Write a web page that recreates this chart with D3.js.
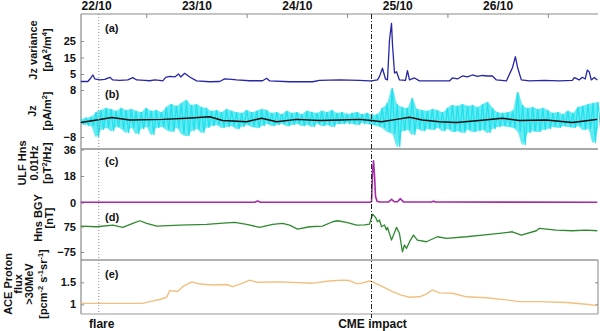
<!DOCTYPE html>
<html>
<head>
<meta charset="utf-8">
<script src="https://cdn.jsdelivr.net/npm/d3@7"></script>
<style>
  body { margin: 0; background: #fff; }
  text { font-family: "Liberation Sans", Arial, sans-serif; font-weight: bold; fill: #111; }
</style>
</head>
<body>
<svg id="chart" width="600" height="331"></svg>
<script>
// ---- time axis (days counted from 22/10 00:00) ----
const dayLabels = ["22/10", "23/10", "24/10", "25/10", "26/10"];
const dayLabelTimes = [0.5, 1.5, 2.5, 3.5, 4.5];
const dayTickTimes = [1, 2, 3, 4, 5];
const flareTime = 0.527;
const cmeTime = 3.244;

// ---- (a) Jz variance [pA^2/m^4] ----
const varTime = [0.348,0.418,0.448,0.468,0.488,0.537,0.587,0.637,0.667,0.736,
  0.816,0.866,0.905,0.985,1.035,1.085,1.134,1.164,1.194,1.234,
  1.284,1.323,1.343,1.383,1.433,1.502,1.632,1.731,1.781,1.851,
  1.900,2.030,2.159,2.199,2.229,2.428,2.657,2.726,2.925,3.124,
  3.224,3.244,3.303,3.323,3.353,3.383,3.403,3.423,3.443,3.453,
  3.473,3.493,3.522,3.582,3.602,3.622,3.672,3.721,4.020,4.050,
  4.100,4.149,4.199,4.249,4.299,4.348,4.398,4.448,4.488,4.587,
  4.647,4.677,4.697,4.736,4.816,4.965,5.114,5.244,5.264,5.313,
  5.343,5.373,5.393,5.413,5.433,5.463,5.493];
const varValue = [0.45,0.45,2.6,4.4,2.0,1.4,1.7,3.0,1.4,1.1,
  1.4,2.8,1.4,1.1,0.9,1.4,1.1,0.8,3.0,3.5,
  3.2,5.0,3.2,5.4,3.2,0.8,0.3,0.45,2.0,1.7,
  1.4,0.9,0.9,2.4,0.8,0.3,0.3,1.1,1.4,1.1,
  0.8,0.8,1.4,3.4,8.5,2.0,1.4,25.6,35.7,22.6,
  5.6,6.4,1.4,1.1,7.0,1.4,2.6,0.8,0.8,2.6,
  2.0,3.8,3.2,4.4,3.5,4.1,3.8,3.8,1.4,0.8,
  8.6,15.5,9.4,1.4,0.8,1.1,0.8,1.1,2.8,1.4,
  3.0,2.0,7.4,6.2,1.4,2.9,1.4];
const varTicks = [5, 15, 25];

// ---- (b) Jz [pA/m^2]: sample envelope (every 0.05 d) and running mean ----
const jzStart = 0.35, jzStep = 0.05;
const jzHigh = [-1.9,-1.5,-1.2,0.5,1.2,1.9,1.5,0.9,1.9,1.2,
  1.5,0.9,0.5,1.9,0.9,1.2,0.5,2.2,3.2,2.6,
  3.6,4.6,2.9,3.2,2.2,1.9,0.9,1.2,0.5,1.5,
  0.9,0.5,0.2,1.2,0.5,0.9,1.5,1.2,0.2,0.5,
  -0.2,0.9,0.2,0.5,-0.2,0.9,0.5,0.2,0.9,0.5,
  1.2,0.2,0.5,-0.2,0.2,0.5,-0.2,0.2,-0.5,-0.2,
  1.9,3.6,8.7,3.2,2.2,1.9,5.3,1.5,1.2,0.9,
  1.5,1.2,0.5,1.9,2.9,2.6,3.2,2.6,2.9,2.2,
  3.2,3.9,1.9,0.5,0.2,0.5,0.9,7.3,2.9,1.9,
  2.2,1.5,1.9,1.2,0.2,0.5,-0.2,0.9,0.2,2.2,
  2.6,3.2,3.6,3.9];
const jzLow = [-3.6,-3.9,-4.3,-8.0,-5.6,-4.9,-6.0,-4.6,-5.3,-6.6,
  -4.9,-7.0,-5.3,-4.6,-7.3,-4.9,-4.6,-5.6,-6.3,-4.9,
  -7.0,-7.7,-6.0,-5.3,-6.6,-4.9,-4.3,-3.9,-4.9,-4.6,
  -4.3,-5.3,-4.6,-3.9,-4.6,-4.9,-4.3,-3.6,-4.3,-3.9,
  -3.6,-4.3,-3.9,-3.6,-4.3,-3.9,-4.6,-3.6,-4.3,-3.9,
  -4.6,-3.6,-3.6,-3.2,-3.6,-3.9,-3.2,-3.6,-3.9,-4.3,
  -4.9,-6.3,-7.0,-11.4,-6.0,-5.6,-7.3,-5.3,-6.0,-5.3,
  -5.6,-4.9,-6.0,-5.3,-6.3,-6.0,-6.6,-5.6,-6.3,-6.0,
  -5.6,-6.6,-5.3,-4.6,-4.3,-4.6,-4.9,-6.3,-10.7,-6.6,
  -6.0,-6.3,-5.6,-5.3,-4.6,-4.9,-4.3,-4.6,-4.9,-4.3,
  -5.6,-5.3,-10.0,-4.9];
const jzMeanTime = [0.348,0.507,0.657,0.836,1.164,1.403,1.632,1.761,2.000,2.149,
  2.299,2.498,2.726,2.925,3.124,3.244,3.343,3.493,3.622,3.751,
  3.920,4.090,4.318,4.547,4.716,4.985,5.244,5.443,5.493];
const jzMeanValue = [-3.1,-2.2,-1.4,-2.2,-2.0,-1.6,-1.1,-2.4,-2.8,-1.6,
  -2.8,-2.0,-2.4,-2.2,-2.0,-2.4,-2.8,-2.0,-1.3,-2.2,
  -2.8,-3.1,-2.4,-1.6,-2.4,-2.2,-3.1,-2.2,-2.0];
const jzTicks = [-8, 8];

// ---- (c) ULF Hns 0.01 Hz [pT^2/Hz] ----
const ulfTime = [0.348,2.080,2.109,2.139,3.224,3.244,3.254,3.264,3.274,3.284,
  3.299,3.323,3.413,3.443,3.473,3.502,3.532,3.562,3.841,3.861,3.881,5.493];
const ulfValue = [0.2,0.2,1.0,0.2,0.2,0.5,20,28.4,18,4,
  0.8,0.3,0.3,2.2,0.5,0.5,2.6,0.4,0.3,0.9,0.3,0.2];
const ulfTicks = [0, 18, 36];

// ---- (d) Hns BGY [nT] ----
const bgyTime = [0.348,0.507,0.667,0.766,0.866,0.935,1.005,1.104,1.333,1.602,
  1.731,1.881,2.000,2.129,2.259,2.358,2.428,2.507,2.627,2.756,
  2.856,2.905,2.995,3.095,3.174,3.224,3.254,3.284,3.303,3.323,
  3.343,3.373,3.393,3.403,3.443,3.483,3.493,3.522,3.552,3.572,
  3.592,3.632,3.662,3.701,3.791,3.900,3.990,4.189,4.348,4.517,
  4.647,4.736,4.886,4.915,5.085,5.244,5.383,5.493];
const bgyValue = [77.6,73.5,83.5,70,93.5,108.8,93.5,77.6,83.5,87.6,
  93.5,99.4,87.6,70,87.6,93.5,83.5,60,73.5,77.6,
  103,108.8,99.4,83.5,85,89.4,148,128.8,103,113,
  73.5,83.5,54,70,-4.7,54,70,35,-73.5,-34,
  -53.5,-4.7,24.7,-4.7,-14.7,14.7,5.3,14.7,24.7,35,
  44,24.7,50,64,54,50,54,50];
const bgyTicks = [-75, 75];

// ---- (e) ACE proton flux >30 MeV ----
const protonTime = [0.348,0.965,1.035,1.134,1.204,1.234,1.313,1.363,1.453,1.532,
  1.662,1.801,1.861,1.960,2.030,2.100,2.328,2.657,2.826,2.955,
  3.025,3.095,3.144,3.224,3.254,3.353,3.453,3.542,3.622,3.721,
  3.791,3.851,3.920,4.050,4.189,4.388,4.587,4.716,4.915,5.184,
  5.383,5.493];
const protonValue = [1.02,1.02,1.06,1.11,1.16,1.31,1.29,1.40,1.51,1.46,
  1.44,1.45,1.40,1.48,1.55,1.50,1.51,1.48,1.53,1.55,
  1.54,1.47,1.48,1.53,1.51,1.40,1.29,1.21,1.16,1.17,
  1.23,1.33,1.26,1.25,1.17,1.15,1.10,1.06,1.06,1.04,
  1.00,0.97];
const protonTicks = [1, 1.5];

// ---------------------------------------------------------------
const svg = d3.select("#chart");
const plotL = 81, plotR = 598, plotT = 14, plotB = 314;

const x = d3.scaleLinear().domain([0.35, 5.5]).range([plotL, plotR]);

const yVar = d3.scaleLinear().domain([0, 25]).range([82.25, 41]);
const yJz = d3.scaleLinear().domain([-8, 8]).range([137, 90]);
const yUlf = d3.scaleLinear().domain([0, 36]).range([202.5, 149.5]);
const yBgy = d3.scaleLinear().domain([-75, 75]).range([252, 226.5]);
const yPro = d3.scaleLinear().domain([1, 1.5]).range([304.3, 282.3]);

const pairs = (ts, vs) => ts.map((t, i) => [t, vs[i]]);
function drawLine(ts, vs, y, color, width) {
  svg.append("path")
    .datum(pairs(ts, vs))
    .attr("fill", "none")
    .attr("stroke", color)
    .attr("stroke-width", width)
    .attr("stroke-linejoin", "round")
    .attr("d", d3.line().x(d => x(d[0])).y(d => y(d[1])));
}

// frame pieces
const frame = svg.append("g").attr("fill", "none");
function hline(yy, color, w) {
  frame.append("line").attr("x1", plotL).attr("x2", plotR).attr("y1", yy).attr("y2", yy)
    .attr("stroke", color).attr("stroke-width", w);
}
hline(plotT, "#8a8a8a", 1.2);
hline(149, "#a9a9a9", 2);
hline(260, "#9a9a9a", 1.5);
hline(plotB, "#9a9a9a", 1.2);
frame.append("line").attr("x1", plotR).attr("x2", plotR).attr("y1", 260).attr("y2", plotB)
  .attr("stroke", "#9a9a9a").attr("stroke-width", 1.2);
frame.append("line").attr("x1", plotL).attr("x2", plotL).attr("y1", plotT).attr("y2", plotB)
  .attr("stroke", "#8a8a8a").attr("stroke-width", 1.2);

// top time axis
const topTicks = svg.append("g").attr("transform", `translate(0,${plotT})`)
  .call(d3.axisTop(x).tickValues(dayTickTimes).tickSizeInner(-4).tickSizeOuter(0).tickFormat(""));
topTicks.select(".domain").remove();
topTicks.selectAll("line").attr("stroke", "#8a8a8a");
const topLabels = svg.append("g").attr("transform", `translate(0,${plotT})`)
  .call(d3.axisTop(x).tickValues(dayLabelTimes).tickSize(0).tickPadding(4)
    .tickFormat((d, i) => dayLabels[i]));
topLabels.select(".domain").remove();
topLabels.selectAll("text").attr("font-size", 12).attr("font-family", null);

// left value axes
function leftAxis(y, ticks, fmt) {
  const g = svg.append("g").attr("transform", `translate(${plotL},0)`)
    .call(d3.axisLeft(y).tickValues(ticks).tickSizeInner(-3).tickSizeOuter(0).tickPadding(5)
      .tickFormat(fmt || d3.format("")));
  g.select(".domain").remove();
  g.selectAll("line").attr("stroke", "#8a8a8a");
  g.selectAll("text").attr("font-size", 11).attr("font-family", null);
  return g;
}
leftAxis(yVar, varTicks);
leftAxis(yJz, jzTicks);
leftAxis(yUlf, ulfTicks);
leftAxis(yBgy, bgyTicks);
leftAxis(yPro, protonTicks, d => d === 1 ? "1" : "1.5");
// mirrored ticks on the right edge of the proton box
const rt = svg.append("g").attr("transform", `translate(${plotR},0)`)
  .call(d3.axisRight(yPro).tickValues(protonTicks).tickSizeInner(-3).tickSizeOuter(0).tickFormat(""));
rt.select(".domain").remove();
rt.selectAll("line").attr("stroke", "#8a8a8a");

// (b) Jz samples: band between the extremes of each interval, plus the
// high/low excursions traced as a zigzag for the spiky texture
const jzTimes = jzHigh.map((h, i) => jzStart + i * jzStep);
svg.append("path").datum(jzTimes.map((t, i) => [t, jzHigh[i], jzLow[i]]))
  .attr("fill", "#2ee4ee").attr("fill-opacity", 0.75).attr("stroke", "none")
  .attr("d", d3.area().x(d => x(d[0])).y0(d => yJz(d[2])).y1(d => yJz(d[1])).curve(d3.curveMonotoneX));
const jzZig = [];
jzTimes.forEach((t, i) => {
  jzZig.push([t, jzHigh[i]]);
  jzZig.push([t + jzStep / 2, jzLow[i]]);
});
svg.append("path").datum(jzZig)
  .attr("fill", "none").attr("stroke", "#1fe0ec").attr("stroke-width", 1.2)
  .attr("d", d3.line().x(d => x(d[0])).y(d => yJz(d[1])));
drawLine(jzMeanTime, jzMeanValue, yJz, "#111", 1.5);

drawLine(varTime, varValue, yVar, "#2626a6", 1.3);
drawLine(ulfTime, ulfValue, yUlf, "#a52ba5", 1.6);
drawLine(bgyTime, bgyValue, yBgy, "#2f8a2f", 1.3);
drawLine(protonTime, protonValue, yPro, "#f2c07e", 1.4);

// event markers
svg.append("line").attr("x1", x(flareTime)).attr("x2", x(flareTime))
  .attr("y1", plotT).attr("y2", plotB)
  .attr("stroke", "#8c8c8c").attr("stroke-width", 1).attr("stroke-dasharray", "1,2");
svg.append("line").attr("x1", x(cmeTime)).attr("x2", x(cmeTime))
  .attr("y1", plotT).attr("y2", 318)
  .attr("stroke", "#222").attr("stroke-width", 1).attr("stroke-dasharray", "5,2,1,2");

svg.append("text").attr("x", x(flareTime) + 3).attr("y", 328).attr("text-anchor", "middle")
  .attr("font-size", 12).text("flare");
svg.append("text").attr("x", x(cmeTime) + 1).attr("y", 328).attr("text-anchor", "middle")
  .attr("font-size", 12).text("CME impact");

// panel letters
const letters = [["(a)", 32], ["(b)", 98], ["(c)", 165], ["(d)", 221], ["(e)", 278]];
letters.forEach(([s, yy]) => {
  svg.append("text").attr("x", 105).attr("y", yy).attr("font-size", 11).text(s);
});

// rotated axis titles; parts marked true are raised exponents
function yTitle(cy, lines) {
  lines.forEach(([bx, parts]) => {
    const t = svg.append("text")
      .attr("transform", `translate(${bx},${cy}) rotate(-90)`)
      .attr("text-anchor", "middle").attr("font-size", 11);
    let raised = false;
    parts.forEach(([s, sup]) => {
      const ts = t.append("tspan").text(s);
      if (sup && !raised) { ts.attr("dy", -4).attr("font-size", 7.5); raised = true; }
      else if (sup) { ts.attr("font-size", 7.5); }
      else if (!sup && raised) { ts.attr("dy", 4); raised = false; }
    });
  });
}
yTitle(50, [
  [37, [["Jz variance"]]],
  [51, [["[pA"], ["2", true], ["/m"], ["4", true], ["]"]]]
]);
yTitle(111, [
  [35.5, [["Jz"]]],
  [51, [["[pA/m"], ["2", true], ["]"]]]
]);
yTitle(163, [
  [25.5, [["ULF Hns"]]],
  [37.5, [["0.01Hz"]]],
  [51, [["[pT"], ["2", true], ["/Hz]"]]]
]);
yTitle(218, [
  [42, [["Hns BGY"]]],
  [53, [["[nT]"]]]
]);
yTitle(284, [
  [11.5, [["ACE Proton"]]],
  [21.5, [["flux"]]],
  [33, [[">30MeV"]]],
  [47, [["[pcm"], ["-2", true], [" s"], ["-1", true], ["sr"], ["-1", true], ["]"]]]
]);
</script>
</body>
</html>
